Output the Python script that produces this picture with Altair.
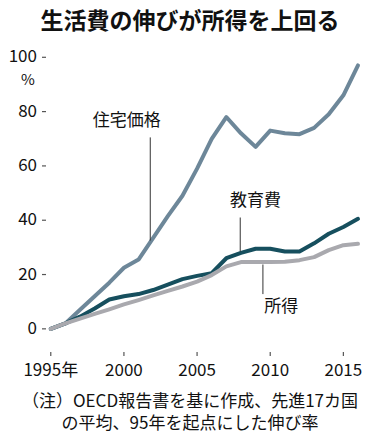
import altair as alt
import pandas as pd

title_text = "生活費の伸びが所得を上回る"
note_line1 = "（注）OECD報告書を基に作成、先進17カ国"
note_line2 = "の平均、95年を起点にした伸び率"

years = list(range(1995, 2017))
housing = [0, 2, 7, 12, 17, 22.5, 25.5, 33.5, 41.5, 49, 59, 70, 78, 72, 67, 73, 72, 71.7, 74, 79, 86, 97]
education = [0, 2, 4.5, 7.5, 10.8, 12, 12.8, 14.3, 16.3, 18.3, 19.5, 20.5, 26, 28, 29.5, 29.5, 28.5, 28.5, 31.5, 35, 37.5, 40.5]
income = [0, 2, 3.8, 5.5, 7.2, 9, 10.6, 12.3, 14, 15.6, 17.4, 19.8, 23, 24.6, 24.6, 24.6, 24.7, 25.3, 26.4, 29, 30.8, 31.3]

series_names = ["住宅価格", "教育費", "所得"]
series_colors = ["#6d8799", "#164f5e", "#a9a9ae"]

y_ticks = [0, 20, 40, 60, 80, 100]
y_labels = ["0", "20", "40", "60", "80", "100"]
x_ticks = [1995, 2000, 2005, 2010, 2015]
x_labels = ["1995年", "2000", "2005", "2010", "2015"]

label_x = [2000.2, 2009.0, 2010.75]
label_y = [76.6, 47, 8]
leader_x = [2001.8, 2007.95, 2009.5]
leader_top = [70.5, 41, 23.7]
leader_bottom = [32.5, 28.5, 12.8]

FONT = "Noto Sans CJK JP"

rows = []
for name, vals in zip(series_names, [housing, education, income]):
    for y, v in zip(years, vals):
        rows.append({"series": name, "year": y, "value": v})
df = pd.DataFrame(rows)

xscale = alt.Scale(domain=[1994.4, 2016], nice=False, zero=False)
yscale = alt.Scale(domain=[-10, 106], nice=False, zero=False)

lines = alt.Chart(df).mark_line(strokeWidth=4, strokeJoin="round", strokeCap="round").encode(
    x=alt.X("year:Q", scale=xscale,
            axis=alt.Axis(values=x_ticks, ticks=False, grid=False, title=None, labels=False)),
    y=alt.Y("value:Q", scale=yscale,
            axis=alt.Axis(values=y_ticks, ticks=False, grid=False, title=None, labels=False)),
    color=alt.Color("series:N", scale=alt.Scale(domain=series_names, range=series_colors), legend=None),
    order=alt.Order("year:Q"),
)

ytick_df = pd.DataFrame({"value": y_ticks, "lab": y_labels})
yticks = alt.Chart(ytick_df).mark_rule(color="#555", strokeWidth=1.2).encode(
    y=alt.Y("value:Q", scale=yscale, axis=None), x=alt.value(0), x2=alt.value(4))
ylabs = alt.Chart(ytick_df).mark_text(font=FONT, fontSize=17, color="#111", align="right", baseline="middle").encode(
    y=alt.Y("value:Q", scale=yscale, axis=None), x=alt.value(-5), text="lab:N")

xtick_df = pd.DataFrame({"year": x_ticks, "lab": x_labels})
xticks = alt.Chart(xtick_df).mark_rule(color="#555", strokeWidth=1.2).encode(
    x=alt.X("year:Q", scale=xscale, axis=None), y=alt.value(315), y2=alt.value(311))
xlabs = alt.Chart(xtick_df).mark_text(font=FONT, fontSize=17, color="#111", align="center", baseline="middle").encode(
    x=alt.X("year:Q", scale=xscale, axis=None), y=alt.value(330), text="lab:N")

lab_df = pd.DataFrame({"label": series_names, "lx": label_x, "ly": label_y,
                       "kx": leader_x, "k1": leader_top, "k2": leader_bottom})
labels = alt.Chart(lab_df).mark_text(font=FONT, fontSize=17, color="#111", align="center", baseline="middle").encode(
    x=alt.X("lx:Q", scale=xscale, axis=None), y=alt.Y("ly:Q", scale=yscale, axis=None), text="label:N")
leaders = alt.Chart(lab_df).mark_rule(color="#333", strokeWidth=1).encode(
    x=alt.X("kx:Q", scale=xscale, axis=None), y=alt.Y("k1:Q", scale=yscale, axis=None), y2="k2:Q")

pct = alt.Chart(pd.DataFrame({"t": ["%"], "v": [91.8]})).mark_text(
    font=FONT, fontSize=15, color="#111", align="center", baseline="middle").encode(
    x=alt.value(-14), y=alt.Y("v:Q", scale=yscale, axis=None), text="t:N")

title = alt.Chart(pd.DataFrame({"t": [title_text]})).mark_text(
    font=FONT, fontSize=23, fontWeight="bold", color="#111", align="center", baseline="middle").encode(
    x=alt.value(148), y=alt.value(-19), text="t:N")

note1 = alt.Chart(pd.DataFrame({"t": [note_line1]})).mark_text(
    font=FONT, fontSize=17, color="#111", align="center", baseline="middle").encode(
    x=alt.value(148), y=alt.value(361), text="t:N")
note2 = alt.Chart(pd.DataFrame({"t": [note_line2]})).mark_text(
    font=FONT, fontSize=17, color="#111", align="center", baseline="middle").encode(
    x=alt.value(148), y=alt.value(383), text="t:N")

chart = alt.layer(lines, yticks, ylabs, xticks, xlabs, leaders, labels, pct, title, note1, note2).properties(
    width=316, height=315,
    padding={"left": 34, "top": 33, "right": 14, "bottom": 88},
    autosize=alt.AutoSizeParams(type="none"),
).configure_view(stroke=None).configure_axis(
    domainColor="#555", domainWidth=1.5,
)

chart.save("out.html", embed_options={"renderer": "svg", "actions": False})
